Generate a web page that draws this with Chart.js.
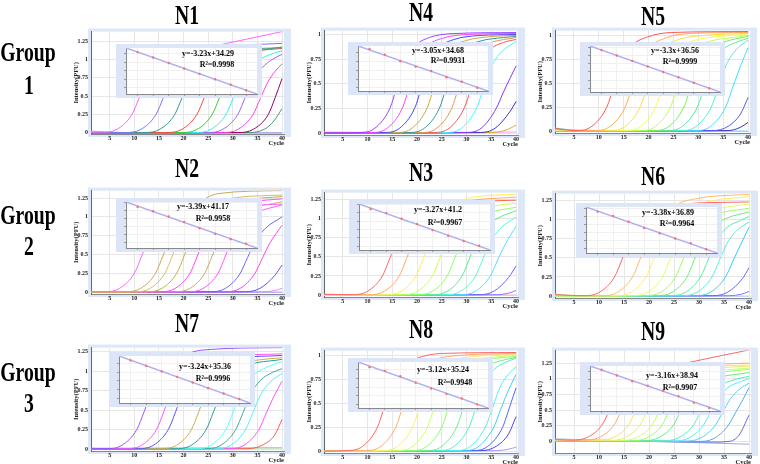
<!DOCTYPE html>
<html>
<head>
<meta charset="utf-8">
<script src="https://cdn.jsdelivr.net/npm/chart.js@4.4.1/dist/chart.umd.min.js"></script>
<style>
  body { margin: 0; background: #fff; width: 760px; height: 464px; position: relative; overflow: hidden; font-family: "Liberation Serif", serif; }
  canvas { position: absolute; }
  .lbl { position: absolute; font-weight: bold; white-space: nowrap; color: #000; }
  .big { font-size: 24px; line-height: 24px; transform: translate(-50%, -50%) scale(0.82, 1.1); }
  .eq { font-size: 8px; line-height: 9px; transform: translate(-50%, -50%); }
  .inset { background: #dce6f8; }
</style>
</head>
<body>
<script>
// 1. Datos: curvas de amplificación (pares x,y = ciclo, intensidad) y curvas estándar
const panelNames = ['N1', 'N4', 'N5', 'N2', 'N3', 'N6', 'N7', 'N8', 'N9'];
const groupNames = ['1', '2', '3'];
const stdLog = [1, 2, 3, 4, 5, 6, 7, 8];
const fitLog = [0.25, 8.7];

const n1Colors = ['#ff66ff','#7777ff','#339999','#ff4444','#33cc33','#33eeee','#9966ff','#ff44dd','#990066','#449977','#ff88bb','#99bbff'];
const n1Curves = [
  [1,0.01, 3.5,0.01, 6.5,0.05, 9.5,0.25, 11,0.48, 12.5,0.72, 14.5,0.92, 18,1.06, 26,1.18, 40,1.38],
  [1,0, 8.4,0.005, 11.4,0.05, 14.4,0.25, 15.9,0.48, 17.4,0.72, 19.4,0.92, 22.4,1.08, 28,1.17, 40,1.22],
  [1,0, 12.2,0.005, 15.2,0.05, 18.2,0.25, 19.7,0.48, 21.2,0.72, 23.2,0.92, 26.2,1.06, 31,1.13, 40,1.16],
  [1,0, 16.7,0.005, 19.7,0.05, 22.7,0.25, 24.2,0.48, 25.7,0.72, 27.7,0.92, 30.7,1.05, 35,1.12, 40,1.15],
  [1,0, 19.8,0.005, 22.8,0.05, 25.8,0.25, 27.3,0.48, 28.8,0.72, 30.8,0.93, 33.8,1.08, 37,1.14, 40,1.17],
  [1,0, 22.6,0.005, 25.6,0.05, 28.6,0.25, 30.1,0.48, 31.6,0.72, 33.6,0.91, 36.6,1.04, 40,1.12],
  [1,0, 25,0.005, 28,0.05, 31,0.25, 32.5,0.48, 34,0.7, 36,0.89, 38,1.0, 40,1.07],
  [1,0, 28.1,0.005, 31.1,0.05, 34.1,0.25, 35.6,0.47, 37.1,0.69, 38.6,0.84, 40,0.94],
  [1,0, 31.2,0.005, 34.2,0.05, 37.2,0.25, 38.6,0.48, 40,0.74],
  [1,0, 33.4,0.005, 36.4,0.05, 38.2,0.15, 40,0.33],
  [1,0.025, 4,0.015, 8,0.005, 40,-0.005],
  [1,-0.005, 20,0, 40,0.005]
];
const n1StdCt = [31.05, 27.85, 24.6, 21.35, 18.15, 14.9, 11.7, 8.45];
const n1Fit = [33.48, 6.19];

const n4Colors = ['#9944ff','#ff44ff','#4444ff','#ccaa44','#339999','#dd9955','#ff5555','#33ffff','#8833ff','#3333cc','#ddaa33','#ff99ff'];
const n4Curves = [
  [1,0, 8.5,0.005, 11.5,0.05, 14.5,0.25, 16,0.48, 17.5,0.72, 19.5,0.88, 22.5,0.97, 27.5,1.01, 40,1.02],
  [1,0, 11,0.005, 14,0.05, 17,0.25, 18.5,0.48, 20,0.72, 22,0.88, 25,0.96, 30,1.0, 40,1.01],
  [1,0, 13.5,0.005, 16.5,0.05, 19.5,0.25, 21,0.48, 22.5,0.72, 24.5,0.87, 27.5,0.95, 32.5,0.99, 40,1.0],
  [1,0, 16,0.005, 19,0.05, 22,0.25, 23.5,0.48, 25,0.72, 27,0.87, 30,0.94, 35,0.98, 40,0.99],
  [1,0, 18.5,0.005, 21.5,0.05, 24.5,0.25, 26,0.48, 27.5,0.72, 29.5,0.86, 32.5,0.93, 37.5,0.97, 40,0.98],
  [1,0, 21,0.005, 24,0.05, 27,0.25, 28.5,0.48, 30,0.71, 32,0.85, 35,0.92, 40,0.97],
  [1,0, 23.5,0.005, 26.5,0.05, 29.5,0.25, 31,0.47, 32.5,0.7, 34.5,0.84, 37.5,0.92, 40,0.95],
  [1,0, 26,0.005, 29,0.05, 32,0.25, 33.5,0.46, 35,0.67, 37,0.82, 40,0.93],
  [1,0, 30,0.005, 33,0.05, 36,0.25, 37.5,0.42, 40,0.68],
  [1,0, 32.8,0.005, 35.8,0.05, 38.8,0.22, 40,0.32],
  [1,0, 35,0.005, 38,0.03, 40,0.08],
  [1,0.01, 20,0.005, 40,0.01]
];
const n4StdCt = [32.2, 28.9, 25.2, 22.1, 19.6, 16.0, 13.5, 10.0];
const n4Fit = [33.92, 8.15];

const n5Colors = ['#ff5555','#ffaa55','#ffdd44','#eeff55','#bbff55','#77ee55','#55ee99','#55eecc','#44ddff','#5555ff','#3333cc','#66ccff'];
const n5Curves = [
  [1,0.03, 3,0.015, 5.6,0.005, 8.6,0.05, 11.6,0.25, 13.1,0.48, 14.6,0.72, 16.6,0.89, 19.6,0.98, 24.6,1.03, 40,1.04],
  [1,0.02, 4,0.01, 9.3,0.005, 12.3,0.05, 15.3,0.25, 16.8,0.48, 18.3,0.72, 20.3,0.88, 23.3,0.97, 28.3,1.02, 40,1.03],
  [1,0.02, 5,0.005, 12.3,0.005, 15.3,0.05, 18.3,0.25, 19.8,0.48, 21.3,0.72, 23.3,0.88, 26.3,0.96, 31.3,1.0, 40,1.02],
  [1,0.01, 15.4,0.005, 18.4,0.05, 21.4,0.25, 22.9,0.48, 24.4,0.72, 26.4,0.87, 29.4,0.95, 34.4,0.99, 40,1.01],
  [1,0.01, 18.4,0.005, 21.4,0.05, 24.4,0.25, 25.9,0.48, 27.4,0.72, 29.4,0.87, 32.4,0.94, 37.4,0.98, 40,1.0],
  [1,0, 21.1,0.005, 24.1,0.05, 27.1,0.25, 28.6,0.48, 30.1,0.72, 32.1,0.86, 35.1,0.93, 40,0.99],
  [1,0, 23.8,0.005, 26.8,0.05, 29.8,0.25, 31.3,0.48, 32.8,0.71, 34.8,0.85, 37.8,0.93, 40,0.97],
  [1,0, 26.6,0.005, 29.6,0.05, 32.6,0.25, 34.1,0.47, 35.6,0.69, 37.6,0.85, 40,0.95],
  [1,0, 29.5,0.005, 32.5,0.05, 35.5,0.25, 37,0.47, 38.5,0.68, 40,0.87],
  [1,0, 33,0.005, 36,0.05, 38.5,0.18, 40,0.35],
  [1,0, 36,0.005, 38.5,0.04, 40,0.09],
  [1,0.035, 3,0.02, 7,0.005, 40,0]
];
const n5StdCt = [33.25, 29.95, 26.7, 23.35, 20.05, 16.75, 13.45, 10.15];
const n5Fit = [35.74, 7.85];

const n2Colors = ['#ff66ff','#ccaa55','#ddbb66','#ccaa44','#ff44ff','#ccaa66','#ff55ff','#6666ff','#ff44ee','#5555ff','#ff77ff','#9999ff'];
const n2Curves = [
  [1,0.01, 4,0.005, 7,0.05, 10,0.25, 11.5,0.48, 13,0.72, 15,0.9, 18,1.03, 24,1.12, 40,1.17],
  [1,0, 8.3,0.005, 11.3,0.05, 14.3,0.25, 15.8,0.48, 17.3,0.73, 19.3,0.96, 22.3,1.15, 27,1.31, 40,1.35],
  [1,0, 10.2,0.005, 13.2,0.05, 16.2,0.25, 17.7,0.48, 19.2,0.73, 21.2,0.95, 24.2,1.12, 30,1.25, 40,1.29],
  [1,0, 12.6,0.005, 15.6,0.05, 18.6,0.25, 20.1,0.48, 21.6,0.73, 23.6,0.95, 26.6,1.11, 32,1.22, 40,1.27],
  [1,0, 15.3,0.005, 18.3,0.05, 21.3,0.25, 22.8,0.48, 24.3,0.72, 26.3,0.94, 29.3,1.1, 34,1.2, 40,1.24],
  [1,0, 18.3,0.005, 21.3,0.05, 24.3,0.25, 25.8,0.48, 27.3,0.72, 29.3,0.93, 32.3,1.08, 40,1.2],
  [1,0, 21,0.005, 24,0.05, 27,0.25, 28.5,0.48, 30,0.72, 32,0.92, 35,1.06, 40,1.16],
  [1,0, 25.5,0.005, 28.5,0.05, 31.5,0.25, 33,0.46, 34.5,0.66, 36.5,0.84, 40,1.0],
  [1,0, 28.5,0.005, 31.5,0.05, 34.5,0.25, 36,0.45, 37.5,0.65, 40,0.89],
  [1,0, 32.5,0.005, 35.5,0.05, 38.5,0.22, 40,0.36],
  [1,0, 36,0.005, 38.5,0.02, 40,0.05],
  [1,-0.005, 40,0]
];
const n2StdCt = [37.2, 34.6, 31.3, 27.9, 24.0, 20.5, 17.2, 14.4];
const n2Fit = [40.32, 11.68];

const n3Colors = ['#ff6666','#ffaa66','#ffee55','#ccff55','#88ff66','#55ee88','#55ffcc','#55ddff','#6666ff','#8877ff','#ffaaaa'];
const n3Curves = [
  [1,0.01, 7,0.005, 10,0.05, 13,0.25, 14.5,0.48, 16,0.73, 18,0.95, 21,1.1, 26,1.2, 40,1.24],
  [1,0.01, 10.4,0.005, 13.4,0.05, 16.4,0.25, 17.9,0.48, 19.4,0.73, 21.4,0.95, 24.4,1.11, 29.4,1.22, 40,1.28],
  [1,0, 13.8,0.005, 16.8,0.05, 19.8,0.25, 21.3,0.48, 22.8,0.73, 24.8,0.96, 27.8,1.18, 30,1.26, 40,1.32],
  [1,0, 17.1,0.005, 20.1,0.05, 23.1,0.25, 24.6,0.48, 26.1,0.72, 28.1,0.93, 31.1,1.08, 36,1.17, 40,1.2],
  [1,0, 20.1,0.005, 23.1,0.05, 26.1,0.25, 27.6,0.48, 29.1,0.72, 31.1,0.92, 34.1,1.06, 40,1.15],
  [1,0, 23.1,0.005, 26.1,0.05, 29.1,0.25, 30.6,0.48, 32.1,0.71, 34.1,0.9, 37.1,1.03, 40,1.1],
  [1,0, 25.8,0.005, 28.8,0.05, 31.8,0.25, 33.3,0.47, 34.8,0.69, 36.8,0.87, 40,1.02],
  [1,0, 28.8,0.005, 31.8,0.05, 34.8,0.25, 36.3,0.46, 37.8,0.66, 40,0.9],
  [1,0, 32.5,0.005, 35.5,0.05, 38.5,0.23, 40,0.38],
  [1,0, 36,0.005, 38.5,0.025, 40,0.06],
  [1,0.005, 40,0]
];
const n3StdCt = [37.4, 34.9, 31.5, 28.4, 24.7, 21.3, 18.2, 15.3];
const n3Fit = [40.38, 12.75];

const n6Colors = ['#ff6666','#ffbb66','#ffee66','#ddff66','#99ff66','#66ee77','#55eeaa','#55eedd','#33ccff','#6666ff','#8877ff','#aaccff'];
const n6Curves = [
  [1,0.02, 4,0.01, 7.1,0.005, 10.1,0.05, 13.1,0.25, 14.6,0.48, 16.1,0.73, 18.1,0.94, 21.1,1.1, 26,1.2, 40,1.23],
  [1,0.01, 10.7,0.005, 13.7,0.05, 16.7,0.25, 18.2,0.48, 19.7,0.74, 21.7,0.97, 24.7,1.17, 30,1.28, 40,1.33],
  [1,0.01, 13.4,0.005, 16.4,0.05, 19.4,0.25, 20.9,0.48, 22.4,0.74, 24.4,0.96, 27.4,1.14, 33,1.25, 40,1.3],
  [1,0, 16.7,0.005, 19.7,0.05, 22.7,0.25, 24.2,0.48, 25.7,0.72, 27.7,0.93, 30.7,1.08, 36,1.17, 40,1.2],
  [1,0, 19.3,0.005, 22.3,0.05, 25.3,0.25, 26.8,0.48, 28.3,0.72, 30.3,0.92, 33.3,1.06, 40,1.15],
  [1,0, 21.6,0.005, 24.6,0.05, 27.6,0.25, 29.1,0.48, 30.6,0.71, 32.6,0.9, 35.6,1.02, 40,1.1],
  [1,0, 24.3,0.005, 27.3,0.05, 30.3,0.25, 31.8,0.47, 33.3,0.7, 35.3,0.88, 38.3,0.99, 40,1.04],
  [1,0, 26.6,0.005, 29.6,0.05, 32.6,0.25, 34.1,0.47, 35.6,0.69, 37.6,0.86, 40,0.97],
  [1,0, 29.3,0.005, 32.3,0.05, 35.3,0.25, 36.8,0.46, 38.3,0.67, 40,0.9],
  [1,0, 32.7,0.005, 35.7,0.05, 38.7,0.23, 40,0.37],
  [1,0, 36,0.005, 38.5,0.025, 40,0.06],
  [1,0.03, 3,0.015, 6,0.005, 40,0]
];
const n6StdCt = [33.2, 30.5, 26.9, 23.0, 19.7, 16.5, 13.6, 9.8];
const n6Fit = [36.05, 7.48];

const n7Colors = ['#9955ff','#ff55ff','#5555ff','#ccaa55','#339999','#55ffff','#44aa99','#55eeff','#ff55ff','#ff5555','#66cc66'];
const n7Curves = [
  [1,0.01, 4.5,0.005, 7.5,0.05, 10.5,0.25, 12,0.48, 13.5,0.73, 15.5,0.96, 18.5,1.14, 24,1.27, 40,1.3],
  [1,0, 8.5,0.005, 11.5,0.05, 14.5,0.25, 16,0.48, 17.5,0.73, 19.5,0.94, 22.5,1.09, 28,1.18, 40,1.22],
  [1,0, 10.9,0.005, 13.9,0.05, 16.9,0.25, 18.4,0.48, 19.9,0.73, 21.9,0.94, 24.9,1.08, 30,1.16, 40,1.2],
  [1,0, 15.6,0.005, 18.6,0.05, 21.6,0.25, 23.1,0.48, 24.6,0.72, 26.6,0.93, 29.6,1.07, 35,1.14, 40,1.17],
  [1,0, 18.6,0.005, 21.6,0.05, 24.6,0.25, 26.1,0.48, 27.6,0.72, 29.6,0.92, 32.6,1.06, 40,1.15],
  [1,0, 22.6,0.005, 25.6,0.05, 28.6,0.25, 30.1,0.48, 31.6,0.72, 33.6,0.91, 36.6,1.04, 40,1.12],
  [1,0, 24.6,0.005, 27.6,0.05, 30.6,0.25, 32.1,0.47, 33.6,0.7, 35.6,0.88, 38,0.98, 40,1.03],
  [1,0, 26.6,0.005, 29.6,0.05, 32.6,0.25, 34.1,0.47, 35.6,0.69, 37.6,0.86, 40,0.97],
  [1,0, 29.3,0.005, 32.3,0.05, 35.3,0.25, 36.8,0.46, 38.3,0.67, 40,0.87],
  [1,0, 33,0.005, 36,0.05, 38.5,0.18, 40,0.38],
  [1,0.01, 40,0.015]
];
const n7StdCt = [32.0, 28.9, 25.7, 22.4, 19.1, 15.9, 12.7, 9.5];
const n7Fit = [34.55, 7.17];

const n8Colors = ['#ff6666','#ffaa66','#ffee66','#ccff66','#88ff66','#66ee88','#55eecc','#55eeee','#44ccff','#5566ff','#4444ee','#aa99ff'];
const n8Curves = [
  [1,0, 6,0.005, 9,0.05, 12,0.25, 13.5,0.48, 15,0.72, 17,0.88, 20,0.97, 25,1.02, 40,1.03],
  [1,0, 9.7,0.005, 12.7,0.05, 15.7,0.25, 17.2,0.48, 18.7,0.72, 20.7,0.88, 23.7,0.96, 28.7,1.0, 40,1.02],
  [1,0, 13.1,0.005, 16.1,0.05, 19.1,0.25, 20.6,0.48, 22.1,0.72, 24.1,0.87, 27.1,0.95, 32,0.99, 40,1.01],
  [1,0, 16.1,0.005, 19.1,0.05, 22.1,0.25, 23.6,0.48, 25.1,0.72, 27.1,0.87, 30.1,0.94, 35,0.98, 40,1.0],
  [1,0, 19,0.005, 22,0.05, 25,0.25, 26.5,0.48, 28,0.72, 30,0.86, 33,0.94, 40,0.99],
  [1,0, 22,0.005, 25,0.05, 28,0.25, 29.5,0.48, 31,0.71, 33,0.86, 36,0.93, 40,0.98],
  [1,0, 24.5,0.005, 27.5,0.05, 30.5,0.25, 32,0.47, 33.5,0.7, 35.5,0.85, 38,0.93, 40,0.97],
  [1,0, 27.8,0.005, 30.8,0.05, 33.8,0.25, 35.3,0.46, 36.8,0.67, 38.4,0.8, 40,0.88],
  [1,0, 29.5,0.005, 32.5,0.05, 35.5,0.25, 37,0.45, 38.5,0.64, 40,0.8],
  [1,0, 31.3,0.005, 34.3,0.05, 37.3,0.25, 38.7,0.46, 40,0.66],
  [1,0, 33,0.005, 36,0.05, 38.5,0.18, 40,0.36],
  [1,0, 36,0.005, 38.5,0.02, 40,0.04]
];
const n8StdCt = [31.5, 29.4, 26.3, 22.6, 19.3, 16.2, 13.6, 10.2];
const n8Fit = [34.46, 8.10];

const n9Colors = ['#ff6666','#ffaa66','#ffdd66','#eeee66','#ccff66','#99ff66','#66ee77','#55eebb','#55eeee','#55ccff','#55aaee','#6666ee','#99aadd'];
const n9Curves = [
  [1,0.03, 4.5,0.02, 7.5,0.06, 10.5,0.25, 12,0.48, 13.5,0.72, 15.5,0.92, 18.5,1.08, 25.6,1.22, 40,1.46],
  [1,0.03, 6.9,0.02, 9.9,0.06, 12.9,0.25, 14.4,0.48, 15.9,0.72, 17.9,0.93, 20.9,1.1, 27,1.2, 40,1.25],
  [1,0.025, 9.8,0.015, 12.8,0.06, 15.8,0.25, 17.3,0.48, 18.8,0.72, 20.8,0.92, 23.8,1.08, 30,1.18, 40,1.22],
  [1,0.02, 12.1,0.015, 15.1,0.06, 18.1,0.25, 19.6,0.48, 21.1,0.72, 23.1,0.92, 26.1,1.07, 32,1.16, 40,1.2],
  [1,0.02, 14.5,0.015, 17.5,0.06, 20.5,0.25, 22,0.48, 23.5,0.72, 25.5,0.91, 28.5,1.05, 34,1.13, 40,1.17],
  [1,0.015, 16.5,0.01, 19.5,0.055, 22.5,0.25, 24,0.48, 25.5,0.71, 27.5,0.9, 30.5,1.03, 36,1.12, 40,1.15],
  [1,0.015, 18.8,0.01, 21.8,0.055, 24.8,0.25, 26.3,0.48, 27.8,0.71, 29.8,0.89, 32.8,1.0, 40,1.1],
  [1,0.01, 22.8,0.01, 25.8,0.055, 28.8,0.25, 30.3,0.47, 31.8,0.7, 33.8,0.87, 36.8,0.98, 40,1.04],
  [1,0.01, 24.8,0.005, 27.8,0.05, 30.8,0.25, 32.3,0.47, 33.8,0.69, 35.8,0.86, 38.5,0.96, 40,1.0],
  [1,0.01, 27.2,0.005, 30.2,0.05, 33.2,0.25, 34.7,0.46, 36.2,0.67, 38.2,0.84, 40,0.93],
  [1,0.005, 29.8,0, 32.8,0.04, 35.8,0.25, 37.3,0.46, 38.8,0.67, 40,0.86],
  [1,0.01, 20,0, 33,-0.01, 36,0, 38,0.1, 40,0.42],
  [1,0.04, 15,0.01, 30,-0.02, 40,-0.045]
];
const n9StdCt = [35.9, 32.5, 29.1, 26.4, 23.5, 20.3, 16.4, 13.3];
const n9Fit = [38.15, 11.45];

const eqTexts = ['y=-3.23x+34.29', 'y=-3.05x+34.68', 'y=-3.3x+36.56', 'y=-3.39x+41.17', 'y=-3.27x+41.2', 'y=-3.38x+36.89', 'y=-3.24x+35.36', 'y=-3.12x+35.24', 'y=-3.16x+38.94'];
const r2Texts = ['R²=0.9998', 'R²=0.9931', 'R²=0.9999', 'R²=0.9958', 'R²=0.9967', 'R²=0.9964', 'R²=0.9996', 'R²=0.9948', 'R²=0.9907'];

// 2. Maquetación de cada panel (posiciones en píxeles)
const panels = [
  { colors: n1Colors, curves: n1Curves, std: n1StdCt, fit: n1Fit, yMin: -0.015, yMax: 1.38, plot: [91, 28, 284, 134], inset: [116, 44, 262, 98], eq: [208, 53], r2: [217, 64], title: [187, 15] },
  { colors: n4Colors, curves: n4Curves, std: n4StdCt, fit: n4Fit, yMin: -0.02, yMax: 1.04, plot: [324, 27, 518, 135], inset: [348, 42, 493, 95], eq: [438, 50], r2: [448, 60], title: [421, 12] },
  { colors: n5Colors, curves: n5Curves, std: n5StdCt, fit: n5Fit, yMin: -0.02, yMax: 1.05, plot: [555, 27, 750, 133], inset: [580, 42, 725, 96], eq: [675, 50], r2: [680, 61], title: [653, 16] },
  { colors: n2Colors, curves: n2Curves, std: n2StdCt, fit: n2Fit, yMin: -0.025, yMax: 1.35, plot: [91, 187, 284, 294], inset: [116, 198, 262, 252], eq: [203, 206], r2: [213, 218], title: [187, 168] },
  { colors: n3Colors, curves: n3Curves, std: n3StdCt, fit: n3Fit, yMin: -0.025, yMax: 1.34, plot: [324, 189, 518, 297], inset: [349, 200, 495, 254], eq: [438, 209], r2: [445, 222], title: [421, 172] },
  { colors: n6Colors, curves: n6Curves, std: n6StdCt, fit: n6Fit, yMin: -0.025, yMax: 1.34, plot: [555, 190, 751, 298], inset: [576, 203, 722, 257], eq: [668, 212], r2: [677, 223], title: [653, 176] },
  { colors: n7Colors, curves: n7Curves, std: n7StdCt, fit: n7Fit, yMin: -0.025, yMax: 1.3, plot: [91, 344, 284, 451], inset: [109, 352, 255, 407], eq: [205, 366], r2: [213, 378], title: [187, 323] },
  { colors: n8Colors, curves: n8Curves, std: n8StdCt, fit: n8Fit, yMin: -0.02, yMax: 1.05, plot: [324, 347, 518, 453], inset: [348, 358, 493, 412], eq: [443, 369], r2: [455, 382], title: [421, 329] },
  { colors: n9Colors, curves: n9Curves, std: n9StdCt, fit: n9Fit, yMin: -0.185, yMax: 1.45, plot: [555, 347, 751, 453], inset: [580, 362, 725, 415], eq: [672, 375], r2: [680, 387], title: [653, 331] }
];

const Y_W = 19;
const serif = 'Liberation Serif';
const tickFont = { family: serif, size: 6, weight: 'bold' };

function addCanvas(left, top, w, h, cls) {
  const cv = document.createElement('canvas');
  cv.width = w; cv.height = h;
  cv.style.left = left + 'px'; cv.style.top = top + 'px';
  cv.style.width = w + 'px'; cv.style.height = h + 'px';
  if (cls) cv.className = cls;
  document.body.appendChild(cv);
  return cv;
}

function addText(text, x, y, cls) {
  const d = document.createElement('div');
  d.className = 'lbl ' + cls;
  d.style.left = x + 'px'; d.style.top = y + 'px';
  d.textContent = text;
  document.body.appendChild(d);
}

function toPoints(flat) {
  const pts = [];
  for (let i = 0; i < flat.length; i += 2) pts.push({ x: flat[i], y: flat[i + 1] });
  return pts;
}

// marco azul claro alrededor del área de trazado
const framePlugin = {
  id: 'frame',
  beforeDraw(chart) {
    const { ctx, chartArea: a } = chart;
    ctx.save();
    ctx.fillStyle = '#dde7f8';
    ctx.fillRect(a.left - 3, a.top - 3, a.width + 10, a.height + 6);
    ctx.fillStyle = '#ffffff';
    ctx.fillRect(a.left, a.top, a.width, a.height);
    ctx.restore();
  }
};

const whiteArea = {
  id: 'whiteArea',
  beforeDraw(chart) {
    const { ctx, chartArea: a } = chart;
    ctx.save();
    ctx.fillStyle = '#ffffff';
    ctx.fillRect(a.left, a.top, a.width, a.height);
    ctx.restore();
  }
};

function drawMain(p) {
  const [l, t, r, b] = p.plot;
  const cv = addCanvas(l - Y_W, t - 3, r - l + Y_W + 8, b - t + 16);
  new Chart(cv, {
    type: 'line',
    data: {
      datasets: p.curves.map((flat, i) => ({
        data: toPoints(flat),
        borderColor: p.colors[i],
        borderWidth: 1,
        pointRadius: 0,
        cubicInterpolationMode: 'monotone',
        fill: false
      }))
    },
    options: {
      responsive: false,
      animation: false,
      devicePixelRatio: 1,
      events: [],
      layout: { padding: { left: 0, top: 3, right: 8, bottom: 0 } },
      plugins: { legend: { display: false }, tooltip: { enabled: false } },
      scales: {
        x: {
          type: 'linear', min: 1.2, max: 40.4,
          ticks: { stepSize: 5, includeBounds: false, autoSkip: false, maxRotation: 0, padding: 1, color: '#222', font: tickFont },
          grid: { color: '#e6e6e6', drawTicks: false },
          border: { color: '#888' },
          title: { display: true, text: 'Cycle', align: 'end', padding: 0, color: '#222', font: { family: serif, size: 6.5, weight: 'bold' } },
          afterFit: s => { s.height = 13; }
        },
        y: {
          min: p.yMin, max: p.yMax,
          ticks: { stepSize: 0.25, includeBounds: false, padding: 3, color: '#222', font: tickFont, callback: v => String(+v.toFixed(2)) },
          grid: { color: '#e6e6e6', drawTicks: false },
          border: { color: '#666' },
          title: { display: true, text: 'Intensity(PFU)', padding: 0, color: '#222', font: { family: serif, size: 6.5, weight: 'bold' } },
          afterFit: s => { s.width = Y_W; }
        }
      }
    },
    plugins: [framePlugin]
  });
}

function drawInset(p) {
  const [l, t, r, b] = p.inset;
  const cv = addCanvas(l, t, r - l, b - t, 'inset');
  new Chart(cv, {
    data: {
      datasets: [
        { type: 'scatter', data: stdLog.map((x, i) => ({ x, y: p.std[i] })), pointRadius: 1.2, pointBackgroundColor: '#ff6f6f', pointBorderWidth: 0 },
        { type: 'line', data: fitLog.map((x, i) => ({ x, y: p.fit[i] })), borderColor: '#aeaef4', borderWidth: 1.5, pointRadius: 0 }
      ]
    },
    options: {
      responsive: false,
      animation: false,
      devicePixelRatio: 1,
      events: [],
      layout: { padding: { left: 0, top: 2, right: 5, bottom: 0 } },
      plugins: { legend: { display: false }, tooltip: { enabled: false } },
      scales: {
        x: {
          type: 'linear', min: fitLog[0], max: fitLog[1],
          ticks: { display: false, stepSize: 1, includeBounds: false },
          grid: { color: '#f0f0f0', drawTicks: true, tickLength: 2, tickColor: '#999' },
          border: { color: '#888' },
          afterFit: s => { s.height = 3; }
        },
        y: {
          min: p.fit[1], max: p.fit[0],
          ticks: { display: false, stepSize: 5, includeBounds: false },
          grid: { color: '#f0f0f0', drawTicks: true, tickLength: 2, tickColor: '#999' },
          border: { color: '#888' },
          afterFit: s => { s.width = 10; }
        }
      }
    },
    plugins: [whiteArea]
  });
}

// 3. Dibujo de los nueve paneles
panels.forEach((p, i) => {
  drawMain(p);
  drawInset(p);
  addText(eqTexts[i], p.eq[0], p.eq[1], 'eq');
  addText(r2Texts[i], p.r2[0], p.r2[1], 'eq');
  addText(panelNames[i], p.title[0], p.title[1], 'big');
});

// 4. Etiquetas de grupo a la izquierda
const groupY = [[52, 85], [215, 246], [372, 403]];
groupNames.forEach((g, i) => {
  addText('Group', 28, groupY[i][0], 'big');
  addText(g, 29, groupY[i][1], 'big');
});
</script>
</body>
</html>
